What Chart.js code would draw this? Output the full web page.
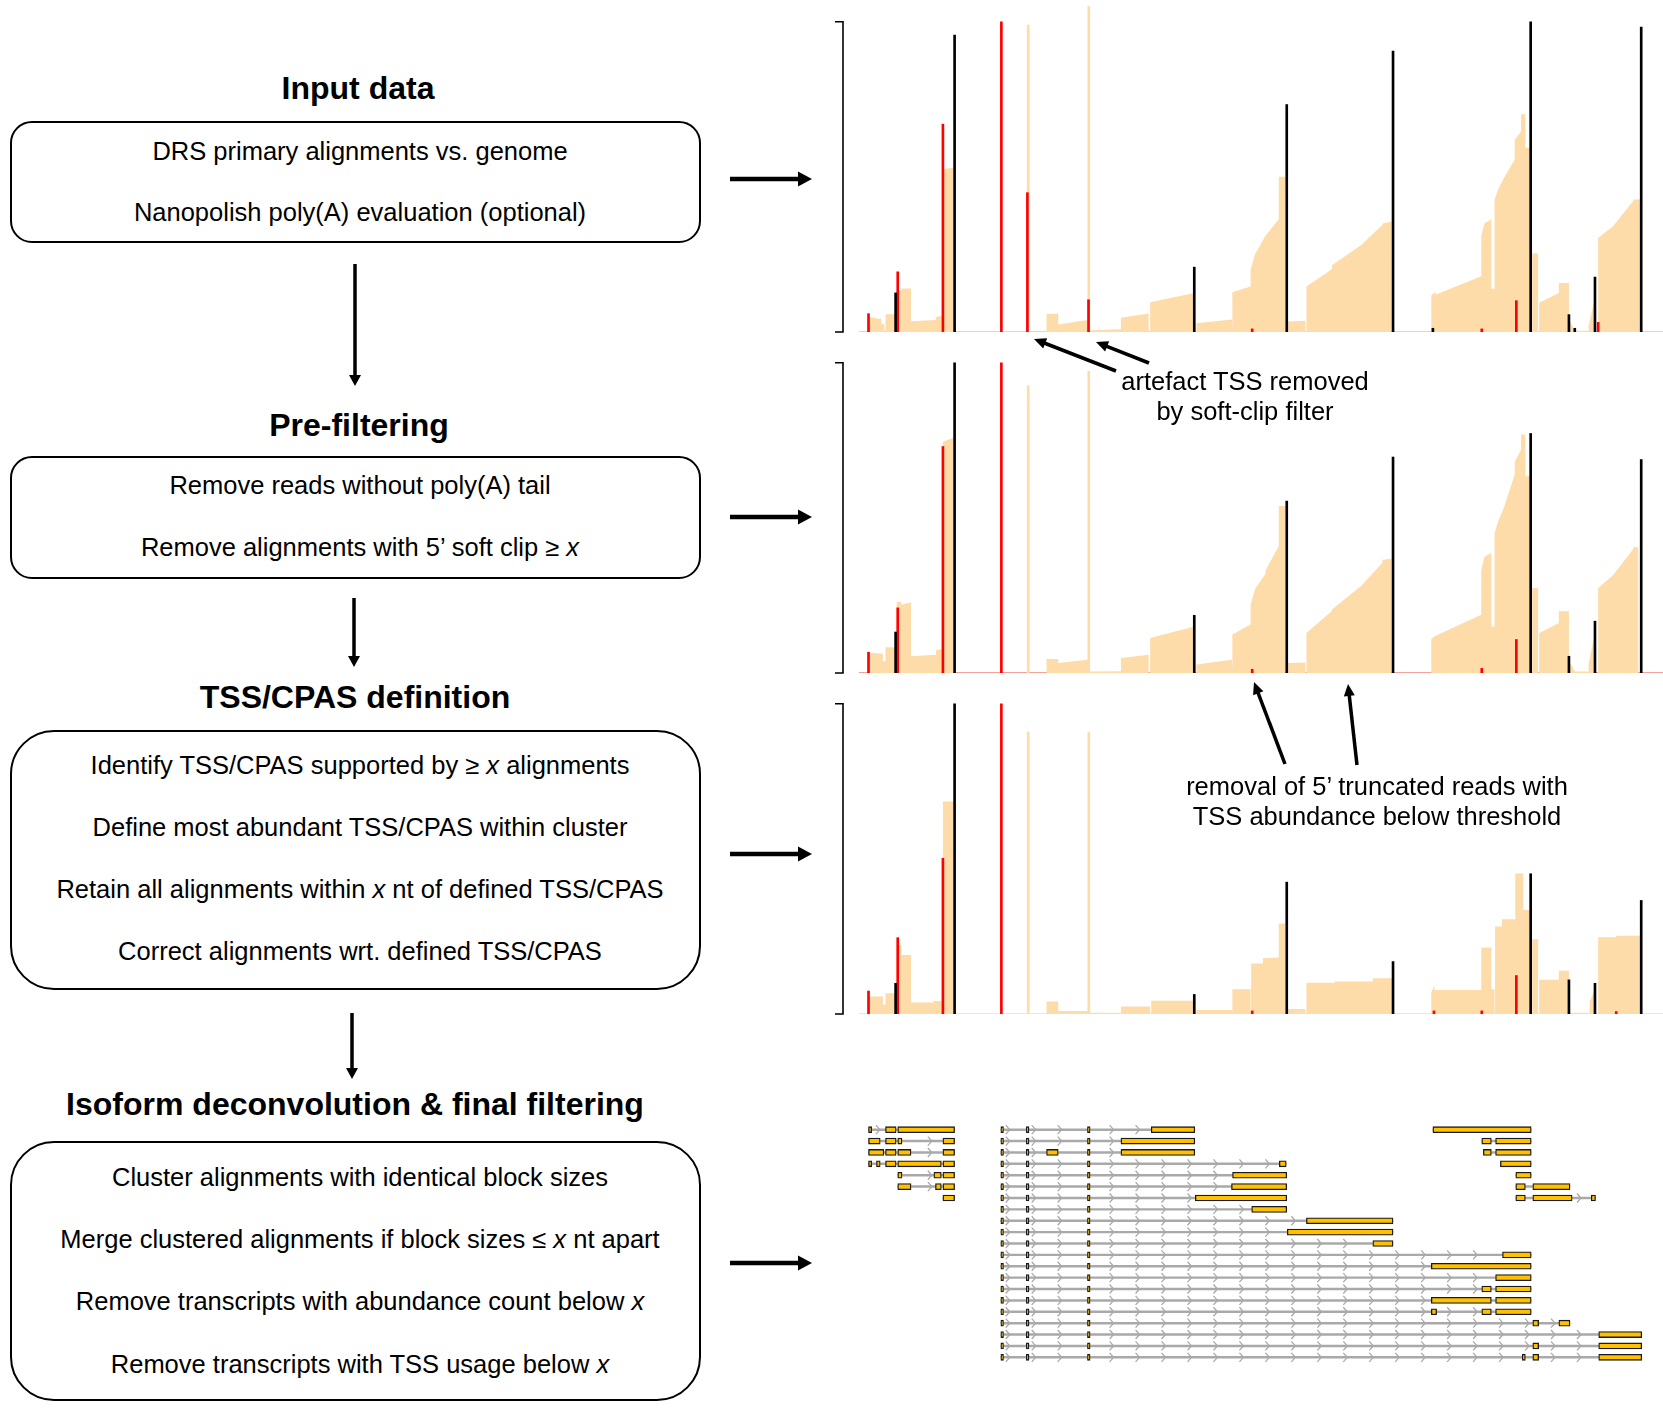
<!DOCTYPE html>
<html>
<head>
<meta charset="utf-8">
<title>Transcript annotation workflow</title>
<script src="https://cdn.jsdelivr.net/npm/chart.js@4.4.1/dist/chart.umd.min.js"></script>
<style>
  html, body { margin: 0; padding: 0; background: #fff; }
  body { width: 1663px; height: 1419px; position: relative; overflow: hidden; font-family: 'Liberation Sans', Arial, sans-serif; color: #000; }
  .title { position: absolute; left: 0; text-align: center; font-weight: bold; font-size: 32px; line-height: 40px; white-space: nowrap; }
  .box { position: absolute; left: 10px; width: 691px; border: 2.5px solid #000; box-sizing: border-box; }
  .line { position: absolute; left: 10px; width: 700px; text-align: center; font-size: 25.5px; line-height: 30px; white-space: nowrap; }
  .note { position: absolute; width: 500px; text-align: center; font-size: 25.5px; line-height: 30px; white-space: nowrap; }
  .track { position: absolute; left: 833px; }
  #arrows { position: absolute; left: 0; top: 0; }
</style>
</head>
<body>

<!-- left: workflow -->
<div class="title" style="top:68px;width:716px">Input data</div>
<div class="box" style="top:121px;height:122px;border-radius:22px"></div>
<div class="line" style="top:136px">DRS primary alignments vs. genome</div>
<div class="line" style="top:197px">Nanopolish poly(A) evaluation (optional)</div>

<div class="title" style="top:405px;width:718px">Pre-filtering</div>
<div class="box" style="top:456px;height:123px;border-radius:22px"></div>
<div class="line" style="top:470px">Remove reads without poly(A) tail</div>
<div class="line" style="top:532px">Remove alignments with 5’ soft clip ≥ <i>x</i></div>

<div class="title" style="top:677px;width:710px">TSS/CPAS definition</div>
<div class="box" style="top:730px;height:260px;border-radius:44px"></div>
<div class="line" style="top:750px">Identify TSS/CPAS supported by ≥ <i>x</i> alignments</div>
<div class="line" style="top:812px">Define most abundant TSS/CPAS within cluster</div>
<div class="line" style="top:874px">Retain all alignments within <i>x</i> nt of defined TSS/CPAS</div>
<div class="line" style="top:936px">Correct alignments wrt. defined TSS/CPAS</div>

<div class="title" style="top:1084px;width:710px">Isoform deconvolution &amp; final filtering</div>
<div class="box" style="top:1141px;height:260px;border-radius:44px"></div>
<div class="line" style="top:1162px">Cluster alignments with identical block sizes</div>
<div class="line" style="top:1224px">Merge clustered alignments if block sizes ≤ <i>x</i> nt apart</div>
<div class="line" style="top:1286px">Remove transcripts with abundance count below <i>x</i></div>
<div class="line" style="top:1349px">Remove transcripts with TSS usage below <i>x</i></div>

<!-- right: tracks -->
<div class="track" style="top:0px"><canvas id="trackInput" width="830" height="336"></canvas></div>
<div class="track" style="top:341px"><canvas id="trackFiltered" width="830" height="336"></canvas></div>
<div class="track" style="top:682px"><canvas id="trackDefined" width="830" height="336"></canvas></div>
<div class="track" style="top:1118px"><canvas id="isoforms" width="830" height="250"></canvas></div>

<div class="note" style="left:995px;top:366px">artefact TSS removed</div>
<div class="note" style="left:995px;top:396px">by soft-clip filter</div>
<div class="note" style="left:1127px;top:771px">removal of 5’ truncated reads with</div>
<div class="note" style="left:1127px;top:801px">TSS abundance below threshold</div>

<svg id="arrows" width="1663" height="1419"></svg>

<script>
// ===============================================
// Data (x = genome position, y = % of track maximum)
// ===============================================
const X_MIN = 25;
const X_MAX = 1568;

// coverage segments: [start, end, heightAtStart, heightAtEnd]
const covInput = [
    [73, 88, 4.8, 4.5], [88, 97, 4.3, 4.3], [97, 103, 2.5, 2.5], [105, 123, 5.7, 5.7],
    [126, 135, 12.8, 13.5], [135, 153, 14, 14], [153, 200, 3.5, 3.9], [200, 211, 4.8, 5.2],
    [213, 233, 52.5, 52.9], [371, 376, 99, 99], [408, 430, 5.9, 5.9], [430, 485, 2.4, 3.9],
    [485, 490, 105, 105], [490, 548, 0.6, 0.9], [548, 600, 4.6, 6], [603, 686, 9.6, 12.6],
    [690, 757, 2.8, 4], [758, 792, 12.8, 14.7], [792, 800, 20, 25], [800, 820, 25, 31],
    [820, 845, 31, 36.3], [845, 857, 50, 50], [862, 895, 3.4, 3.6], [897, 945, 14.7, 20.2],
    [945, 1000, 21.5, 28], [1000, 1040, 28, 34.5], [1040, 1057, 35, 35.5],
    [1132, 1140, 11.8, 13], [1140, 1226, 12, 18], [1226, 1232, 31, 35], [1232, 1245, 35, 36.3],
    [1245, 1251, 13.9, 13.9], [1251, 1258, 42.7, 46], [1258, 1268, 46, 49.4], [1268, 1289, 49.4, 55.6],
    [1289, 1301, 62, 64.6], [1301, 1309, 70.2, 70.2], [1309, 1318, 59.4, 59.4],
    [1322, 1333, 25.3, 25.3], [1335, 1372, 9.4, 12.6], [1372, 1391, 15.8, 15.8], [1391, 1402, 4, 0.5],
    [1402, 1428, 0.4, 0.4], [1428, 1438, 2, 9.4], [1446, 1474, 30.4, 34.1], [1474, 1512, 34.1, 42.2],
    [1512, 1525, 42.7, 42.7]
];
const tssInput = [[73, 5.9], [128, 19.4], [213, 67], [323, 100], [372, 44.9], [487, 10.4],
    [795, 1], [1227, 1], [1292, 10.1], [1446, 3.1]];
const cpasInput = [[124, 12.6], [235, 95.7], [686, 20.9], [860, 73.3], [1060, 90.5], [1135, 1.2],
    [1319, 100], [1391, 5.6], [1402, 1.2], [1440, 17.7], [1527, 98.3]];

const covFiltered = [
    [73, 100, 6.6, 6.2], [100, 105, 3.8, 3.8], [105, 123, 8.3, 8.3], [126, 135, 22.9, 22.9],
    [135, 153, 22, 22.8], [153, 200, 5.4, 5.9], [200, 211, 7.3, 7.7], [213, 233, 74.5, 75.8],
    [371, 376, 92.7, 92.7], [408, 430, 4.5, 4.5], [430, 485, 3.2, 4.3], [485, 490, 97.3, 97.3],
    [490, 548, 0.5, 0.6], [548, 600, 4.8, 5.9], [603, 686, 11.3, 15], [690, 757, 2.7, 4.3],
    [758, 792, 12.4, 15.6], [792, 800, 22, 27], [800, 820, 27, 32], [820, 845, 33, 40.9],
    [845, 857, 53.8, 53.8], [862, 895, 3.2, 3.4], [897, 945, 12.9, 20], [945, 1000, 20.5, 28],
    [1000, 1040, 28, 35.5], [1040, 1057, 36.5, 36.8], [1132, 1140, 11, 12], [1140, 1226, 12, 18.8],
    [1226, 1232, 33, 37.5], [1232, 1245, 37.5, 38.7], [1245, 1251, 15, 15], [1251, 1258, 45, 49],
    [1258, 1268, 49, 53], [1268, 1289, 53, 64], [1289, 1301, 68, 72], [1301, 1309, 76.9, 76.9],
    [1309, 1318, 63.4, 63.4], [1322, 1333, 27.4, 27.4], [1335, 1372, 12.9, 16.1],
    [1372, 1391, 19.9, 19.9], [1391, 1402, 4, 0.5], [1402, 1428, 0.5, 0.5], [1428, 1438, 3, 11.3],
    [1446, 1474, 27.4, 31.5], [1474, 1512, 31.5, 40], [1512, 1522, 40.5, 40.5]
];
const tssFiltered = [[73, 6.7], [128, 21], [213, 73], [323, 100], [795, 1.2], [1227, 1.5], [1292, 10.8]];
const cpasFiltered = [[124, 13.2], [235, 100], [686, 18.6], [860, 55.4], [1060, 69.6], [1319, 77.2],
    [1391, 5.4], [1440, 16.7], [1527, 68.8]];

const covDefined = [
    [73, 100, 5.6, 5.6], [100, 105, 3, 3], [105, 123, 6.7, 6.7], [126, 135, 22.3, 22.3],
    [135, 153, 19, 19], [153, 195, 3.7, 3.7], [195, 211, 4.2, 4.2], [213, 233, 68.5, 68.5],
    [371, 376, 91, 91], [408, 430, 4, 4], [430, 485, 1, 1], [485, 490, 90.9, 90.9],
    [490, 548, 0.4, 0.4], [548, 603, 2.4, 2.4], [605, 686, 4.3, 4.3], [690, 757, 1.3, 1.3],
    [758, 792, 8, 8], [793, 815, 16.3, 16.3], [815, 845, 18, 18.2], [845, 857, 29.2, 29.2],
    [862, 895, 1.6, 1.6], [897, 950, 10.1, 10.1], [950, 1022, 10.5, 10.5], [1022, 1058, 11.5, 11.5],
    [1132, 1138, 7, 9.3], [1138, 1226, 7.7, 7.7], [1226, 1245, 21.4, 21.4], [1245, 1251, 8, 8],
    [1252, 1265, 28.2, 28.2], [1265, 1290, 30.5, 30.5], [1290, 1305, 45.3, 45.3], [1305, 1318, 33.5, 33.5],
    [1322, 1333, 24.1, 24.1], [1335, 1372, 11, 11], [1372, 1391, 13.9, 13.9], [1391, 1428, 0.4, 0.4],
    [1430, 1438, 4, 7.2], [1446, 1480, 24.7, 24.7], [1480, 1525, 25.2, 25.2]
];
const tssDefined = [[73, 7.4], [128, 24.6], [213, 50.2], [323, 100], [795, 1], [1137, 1], [1227, 1],
    [1292, 12.4], [1480, 0.8]];
const cpasDefined = [[124, 9.9], [235, 100], [686, 6.3], [860, 42.5], [1060, 16.9], [1319, 45.2],
    [1391, 11], [1440, 9.9], [1527, 36.6]];

// isoforms: exon blocks [start, end] per transcript, one transcript per row
const gene1Exons = [
    [[73, 79], [105, 125], [128, 235]],
    [[73, 95], [105, 125], [128, 136], [213, 235]],
    [[73, 102], [105, 125], [128, 153], [213, 235]],
    [[73, 79], [88, 95], [105, 125], [128, 210], [213, 235]],
    [[128, 136], [196, 210], [213, 235]],
    [[128, 153], [199, 210], [213, 235]],
    [[213, 235]]
];
const gene2Leader = [[322, 327], [370, 375], [485, 490]];
const gene2Exons = [
    [[605, 687]], [[548, 687]], [[408, 430], [548, 687]], [[846, 859]], [[758, 860]], [[756, 860]],
    [[688, 860]], [[794, 860]], [[897, 1060]], [[861, 1060]], [[1022, 1060]], [[1266, 1320]],
    [[1132, 1320]], [[1253, 1320]], [[1227, 1245], [1253, 1320]], [[1132, 1245], [1253, 1320]],
    [[1132, 1142], [1227, 1245], [1253, 1320]], [[1323, 1334], [1372, 1393]], [[1447, 1528]],
    [[1323, 1334], [1447, 1528]], [[1303, 1309], [1323, 1334], [1447, 1528]]
];
const gene3Exons = [
    [[1135, 1320]],
    [[1227, 1245], [1253, 1320]],
    [[1230, 1245], [1253, 1320]],
    [[1262, 1320]],
    [[1291, 1320]],
    [[1291, 1309], [1323, 1393]],
    [[1291, 1309], [1323, 1397], [1433, 1441]]
];

const ORANGE = '#fddcaa';
const GOLD = '#ffc000';
const INTRON = '#a9a9a9';

// ===============================================
// Coverage tracks
// ===============================================
function coveragePoints(segs) {
    const pts = [];
    segs.forEach(([x0, x1, y0, y1]) => {
        pts.push({x: x0, y: 0}, {x: x0, y: y0}, {x: x1, y: y1}, {x: x1, y: 0});
    });
    return pts;
}

// y-axis bracket and faint baseline
const bracketPlugin = {
    id: 'bracket',
    beforeDatasetsDraw(chart, args, opts) {
        const {ctx, chartArea, scales: {x, y}} = chart;
        ctx.save();
        ctx.strokeStyle = opts.baseColor;
        ctx.lineWidth = 1.2;
        ctx.beginPath();
        ctx.moveTo(x.getPixelForValue(55), y.getPixelForValue(0) - 0.5);
        ctx.lineTo(chartArea.right, y.getPixelForValue(0) - 0.5);
        ctx.stroke();
        ctx.restore();
    },
    afterDraw(chart) {
        const {ctx, chartArea, scales: {y}} = chart;
        const top = y.getPixelForValue(100), bot = y.getPixelForValue(0);
        const left = chartArea.left;
        ctx.save();
        ctx.strokeStyle = '#000';
        ctx.lineWidth = 1.6;
        ctx.beginPath();
        ctx.moveTo(left - 8, top);
        ctx.lineTo(left, top);
        ctx.lineTo(left, bot);
        ctx.lineTo(left - 8, bot);
        ctx.stroke();
        ctx.restore();
    }
};

function makeTrack(id, cov, tss, cpas, baseColor) {
    const sites = tss.map(([x, y]) => ({x, y})).concat(cpas.map(([x, y]) => ({x, y})));
    const colors = tss.map(() => '#ff0000').concat(cpas.map(() => '#000000'));
    new Chart(document.getElementById(id), {
        type: 'line',
        data: {
            datasets: [{
                type: 'bar',
                label: 'TSS / CPAS',
                data: sites,
                backgroundColor: colors,
                barThickness: 2,
                order: 0
            }, {
                type: 'line',
                label: 'coverage',
                data: coveragePoints(cov),
                fill: 'origin',
                backgroundColor: ORANGE,
                borderColor: 'rgba(0,0,0,0)',
                borderWidth: 0,
                pointRadius: 0,
                tension: 0,
                order: 1
            }]
        },
        options: {
            responsive: false,
            animation: false,
            layout: { padding: { left: 10, top: 0, right: 0, bottom: 4 } },
            scales: {
                x: { type: 'linear', min: X_MIN, max: X_MAX, display: false, offset: false },
                y: { type: 'linear', min: 0, max: 107, display: false }
            },
            plugins: {
                legend: { display: false },
                tooltip: { enabled: false },
                bracket: { baseColor }
            }
        },
        plugins: [bracketPlugin]
    });
}

makeTrack('trackInput', covInput, tssInput, cpasInput, 'rgba(240,140,120,0.45)');
makeTrack('trackFiltered', covFiltered, tssFiltered, cpasFiltered, 'rgba(235,70,60,0.5)');
makeTrack('trackDefined', covDefined, tssDefined, cpasDefined, 'rgba(240,160,140,0.3)');

// ===============================================
// Isoform models
// ===============================================
const transcripts = [];
gene1Exons.forEach((ex, i) => transcripts.push({row: i + 1, exons: ex}));
gene2Exons.forEach((ex, i) => transcripts.push({row: i + 1, exons: gene2Leader.concat(ex).sort((a, b) => a[0] - b[0])}));
gene3Exons.forEach((ex, i) => transcripts.push({row: i + 1, exons: ex}));

const exonBars = [];
const intronBars = [];
transcripts.forEach(t => {
    t.exons.forEach(e => exonBars.push({x: e, y: t.row}));
    intronBars.push({x: [t.exons[0][0], t.exons[t.exons.length - 1][1]], y: t.row});
});

// strand chevrons along introns
const chevronPlugin = {
    id: 'chevrons',
    afterDatasetDraw(chart, args) {
        if (args.index !== 1) return;
        const {ctx, scales: {x, y}} = chart;
        const step = 48.86, phase = 335, gap = 5;
        ctx.save();
        ctx.strokeStyle = INTRON;
        ctx.lineWidth = 1.3;
        transcripts.forEach(t => {
            const yp = y.getPixelForValue(t.row);
            for (let i = 0; i < t.exons.length - 1; i++) {
                const gs = t.exons[i][1] + gap, ge = t.exons[i + 1][0] - gap;
                for (let v = phase - step * 7; v < ge; v += step) {
                    if (v <= gs) continue;
                    const xp = x.getPixelForValue(v);
                    ctx.beginPath();
                    ctx.moveTo(xp - 2, yp - 4.5);
                    ctx.lineTo(xp + 2, yp);
                    ctx.lineTo(xp - 2, yp + 4.5);
                    ctx.stroke();
                }
            }
        });
        ctx.restore();
    }
};

new Chart(document.getElementById('isoforms'), {
    type: 'bar',
    data: {
        datasets: [{
            label: 'exons',
            data: exonBars,
            backgroundColor: GOLD,
            borderColor: '#1a1a1a',
            borderWidth: 1.3,
            borderSkipped: false,
            grouped: false,
            barThickness: 6,
            maxBarThickness: 6,
            order: 0
        }, {
            label: 'introns',
            data: intronBars,
            backgroundColor: INTRON,
            grouped: false,
            barThickness: 1.8,
            maxBarThickness: 1.8,
            order: 1
        }]
    },
    options: {
        indexAxis: 'y',
        responsive: false,
        animation: false,
        layout: { padding: { left: 10, top: 6, right: 0, bottom: 5 } },
        scales: {
            x: { type: 'linear', min: X_MIN, max: X_MAX, display: false },
            y: { type: 'linear', min: 0.5, max: 21.5, reverse: true, display: false, offset: false }
        },
        plugins: { legend: { display: false }, tooltip: { enabled: false } }
    },
    plugins: [chevronPlugin]
});

// ===============================================
// Arrows
// ===============================================
const svg = document.getElementById('arrows');
const NS = 'http://www.w3.org/2000/svg';

function arrow(x1, y1, x2, y2, w, hl, hw) {
    const len = Math.hypot(x2 - x1, y2 - y1);
    const ux = (x2 - x1) / len, uy = (y2 - y1) / len;
    const bx = x2 - ux * hl, by = y2 - uy * hl;
    const ln = document.createElementNS(NS, 'line');
    ln.setAttribute('x1', x1); ln.setAttribute('y1', y1);
    ln.setAttribute('x2', bx + ux); ln.setAttribute('y2', by + uy);
    ln.setAttribute('stroke', '#000'); ln.setAttribute('stroke-width', w);
    svg.appendChild(ln);
    const head = document.createElementNS(NS, 'polygon');
    head.setAttribute('points', `${x2},${y2} ${bx - uy * hw / 2},${by + ux * hw / 2} ${bx + uy * hw / 2},${by - ux * hw / 2}`);
    head.setAttribute('fill', '#000');
    svg.appendChild(head);
}

// workflow
arrow(355, 264, 355, 386, 3.5, 11, 12);
arrow(354, 598, 354, 667, 3.5, 11, 12);
arrow(352, 1013, 352, 1079, 3.5, 11, 12);
[179, 517, 854, 1263].forEach(y => arrow(730, y, 812, y, 4.5, 14, 15));

// annotations
arrow(1116, 371, 1034, 339, 3.5, 12, 11);
arrow(1149, 363, 1096, 342, 3.5, 12, 11);
arrow(1285, 764, 1254, 682, 3.5, 12, 11);
arrow(1357, 765, 1348, 684, 3.5, 12, 11);
</script>
</body>
</html>
